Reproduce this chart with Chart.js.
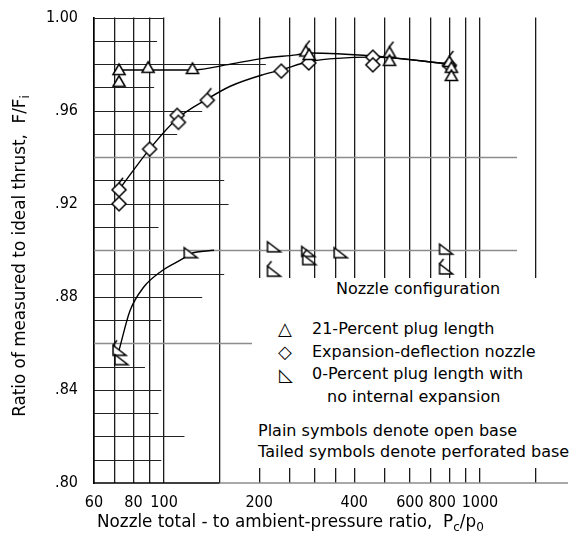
<!DOCTYPE html>
<html>
<head>
<meta charset="utf-8">
<script src="https://cdn.jsdelivr.net/npm/chart.js@4.4.1/dist/chart.umd.min.js"></script>
<style>
  html, body { margin: 0; padding: 0; background: #fff; }
  #wrap { position: relative; width: 576px; height: 541px; color: #000;
          font-family: 'DejaVu Sans', sans-serif; }
  #chart { position: absolute; left: 0; top: 0; }
  #key { position: absolute; left: 252px; top: 278px; width: 324px; height: 190px; background: #fff; }
  .t { position: absolute; white-space: nowrap; font-size: 16px; line-height: 20px; }
  .sym { font-size: 18px; }
  .ttl { font-size: 16.8px; }
  sub { font-size: 12px; vertical-align: -4px; line-height: 0; }
  #ytitle { left: -161px; top: 246px; width: 360px; text-align: center; transform: rotate(-90deg); }
</style>
</head>
<body>
<div id="wrap">
  <canvas id="chart" width="576" height="541"></canvas>
  <div id="key"></div>
  <div class="t" style="left:336px; top:279px;">Nozzle configuration</div>
  <div class="t sym" style="left:278px; top:319px;">△</div>
  <div class="t" style="left:312px; top:319px;">21-Percent plug length</div>
  <div class="t sym" style="left:278px; top:342px;">◇</div>
  <div class="t" style="left:312px; top:342px;">Expansion-deflection nozzle</div>
  <div class="t sym" style="left:279px; top:365px;">◺</div>
  <div class="t" style="left:312px; top:364px;">0-Percent plug length with</div>
  <div class="t" style="left:327px; top:387px;">no internal expansion</div>
  <div class="t" style="left:258px; top:421px;">Plain symbols denote open base</div>
  <div class="t" style="left:258px; top:442px;">Tailed symbols denote perforated base</div>
  <div class="t ttl" style="left:97px; top:511px;">Nozzle total - to ambient-pressure ratio,&nbsp; P<sub>c</sub>/p<sub>0</sub></div>
  <div class="t ttl" id="ytitle">Ratio of measured to ideal thrust,&nbsp; F/F<sub>i</sub></div>
</div>
<script>
// 21-percent plug length (triangles)
const triX = [72, 72, 89, 123, 281, 288, 517, 517, 800, 812, 812];
const triY = [0.977, 0.972, 0.978, 0.9775, 0.985, 0.9835, 0.9845, 0.981, 0.9805, 0.978, 0.9745];
const triTail = [0, 0, 0, 0, 1, 0, 1, 0, 1, 0, 0];

// expansion-deflection nozzle (diamonds)
const diaX = [72, 72, 90, 110, 111, 137, 235, 287, 458, 458, 800];
const diaY = [0.926, 0.920, 0.9435, 0.958, 0.955, 0.9645, 0.977, 0.9805, 0.983, 0.9797, 0.9795];
const diaTail = [1, 0, 0, 0, 0, 1, 0, 0, 0, 0, 0];

// 0-percent plug length, no internal expansion (right triangles)
const rtX = [72, 73, 121, 222, 222, 285, 287, 361, 778, 778];
const rtY = [0.857, 0.853, 0.899, 0.9015, 0.891, 0.8995, 0.896, 0.899, 0.9005, 0.892];
const rtTail = [1, 0, 0, 0, 1, 0, 1, 0, 0, 1];

// faired curves
const triCurveX = [72, 123, 162, 206, 262, 290, 458, 807];
const triCurveY = [0.9775, 0.9775, 0.980, 0.9825, 0.984, 0.9848, 0.9835, 0.980];
const diaCurveX = [72, 90, 110, 137, 162, 206, 235, 287, 458, 807];
const diaCurveY = [0.926, 0.9435, 0.9565, 0.965, 0.9705, 0.9755, 0.9775, 0.981, 0.983, 0.980];
const rtCurveX = [72, 78, 86, 98, 115, 121, 144];
const rtCurveY = [0.857, 0.874, 0.884, 0.891, 0.8965, 0.8985, 0.900];

// axes
const xGridValues = [60, 70, 80, 90, 100, 150, 200, 250, 300, 350, 400, 500, 600, 700, 800, 900, 1000, 1500];
const xTickLabels = [60, 80, 100, 200, 400, 600, 800, 1000];
const yTickValues = [0.80, 0.84, 0.88, 0.92, 0.96, 1.00];

// horizontal rulings of the graph paper: value and where each one stops (in x units)
const hGridValues = [1.00, 0.99, 0.98, 0.97, 0.96, 0.95, 0.94, 0.93, 0.92, 0.91, 0.90,
                     0.89, 0.88, 0.87, 0.86, 0.85, 0.84, 0.83, 0.82, 0.81];
const hGridEnds = [100, 95, 210, 93, 132, 110, 1310, 155, 160, 96, 1310,
                   155, 132, 98, 194, 87, 98, 96, 116, 98];
const hGridGray = [0.94, 0.90, 0.86];

Chart.defaults.font.family = "'DejaVu Sans Condensed', 'DejaVu Sans', sans-serif";
Chart.defaults.font.size = 16;
Chart.defaults.color = '#000';

function marker(kind, tailed) {
  const c = document.createElement('canvas');
  c.width = 26; c.height = 26;
  const g = c.getContext('2d');
  const m = 13;
  g.lineWidth = 1.5; g.strokeStyle = '#000'; g.fillStyle = '#fff';
  g.beginPath();
  let top;
  if (kind === 'tri') {
    g.moveTo(m, m - 7); g.lineTo(m + 6.1, m + 3.5); g.lineTo(m - 6.1, m + 3.5);
    top = [m, m - 7];
  } else if (kind === 'dia') {
    g.moveTo(m, m - 7); g.lineTo(m + 7, m); g.lineTo(m, m + 7); g.lineTo(m - 7, m);
    top = [m, m - 7];
  } else {
    g.moveTo(m - 6, m - 5); g.lineTo(m - 6, m + 5); g.lineTo(m + 7, m + 5);
    top = [m - 6, m - 5];
  }
  g.closePath(); g.fill(); g.stroke();
  if (tailed) {
    g.beginPath(); g.moveTo(top[0], top[1]); g.lineTo(top[0] + 4, top[1] - 5); g.stroke();
  }
  return c;
}

const marks = {
  tri: [marker('tri', false), marker('tri', true)],
  dia: [marker('dia', false), marker('dia', true)],
  rt: [marker('rt', false), marker('rt', true)],
};

const pts = (xs, ys) => xs.map((x, i) => ({ x: x, y: ys[i] }));

function symbols(label, xs, ys, tails, kind) {
  return {
    label: label,
    data: pts(xs, ys),
    pointStyle: tails.map(t => marks[kind][t]),
    pointRadius: 7,
    order: 0,
  };
}

function curve(xs, ys) {
  return {
    data: pts(xs, ys),
    showLine: true,
    pointRadius: 0,
    borderColor: '#000',
    borderWidth: 1.4,
    cubicInterpolationMode: 'monotone',
    order: 2,
  };
}

// draws the partial horizontal rulings and the base line
const partialGrid = {
  id: 'partialGrid',
  beforeDatasetsDraw(chart) {
    const { ctx, chartArea, scales: { x, y } } = chart;
    ctx.save();
    hGridValues.forEach((v, i) => {
      const gray = hGridGray.includes(v);
      const py = Math.round(y.getPixelForValue(v)) + 0.5;
      ctx.strokeStyle = gray ? '#8c8c8c' : '#222';
      ctx.lineWidth = gray ? 1.6 : 1.2;
      ctx.beginPath();
      ctx.moveTo(chartArea.left, py);
      ctx.lineTo(Math.min(x.getPixelForValue(hGridEnds[i]), chartArea.right), py);
      ctx.stroke();
    });
    const by = Math.round(y.getPixelForValue(0.80));
    const split = x.getPixelForValue(150);
    ctx.lineWidth = 1.6;
    ctx.strokeStyle = '#000';
    ctx.beginPath(); ctx.moveTo(chartArea.left, by); ctx.lineTo(split, by); ctx.stroke();
    ctx.strokeStyle = '#8c8c8c';
    ctx.beginPath(); ctx.moveTo(split, by); ctx.lineTo(chartArea.right, by); ctx.stroke();
    ctx.restore();
  }
};

const ctx = document.getElementById('chart').getContext('2d');
new Chart(ctx, {
  type: 'scatter',
  data: {
    datasets: [
      symbols('21-Percent plug length', triX, triY, triTail, 'tri'),
      symbols('Expansion-deflection nozzle', diaX, diaY, diaTail, 'dia'),
      symbols('0-Percent plug length with no internal expansion', rtX, rtY, rtTail, 'rt'),
      curve(triCurveX, triCurveY),
      curve(diaCurveX, diaCurveY),
      curve(rtCurveX, rtCurveY),
    ],
  },
  options: {
    responsive: false,
    animation: false,
    events: [],
    layout: { padding: { top: 14, right: 1, left: 0, bottom: 0 } },
    plugins: {
      legend: { display: false },
      tooltip: { enabled: false },
    },
    scales: {
      x: {
        type: 'logarithmic',
        min: 60,
        max: 1900,
        afterBuildTicks: (s) => { s.ticks = xGridValues.map(v => ({ value: v })); },
        afterFit: (s) => { s.height = 58; },
        ticks: {
          autoSkip: false,
          maxRotation: 0,
          padding: 10,
          // the printed 800 sits a little left of its ruling
          callback: (v) => xTickLabels.includes(v) ? (v === 800 ? '800\u2003' : String(v)) : '',
        },
        grid: { color: '#1a1a1a', lineWidth: 1.3, drawTicks: false },
        border: { display: false },
      },
      y: {
        min: 0.8,
        max: 1.0,
        afterBuildTicks: (s) => { s.ticks = yTickValues.map(v => ({ value: v })); },
        afterFit: (s) => { s.width = 94; },
        ticks: {
          padding: 8,
          callback: (v) => {
            const k = Math.round(v * 100);
            return k === 100 ? '1.00' : '.' + k;
          },
        },
        grid: { display: false },
        border: { display: true, color: '#000', width: 1.6 },
      },
    },
  },
  plugins: [partialGrid],
});
</script>
</body>
</html>
